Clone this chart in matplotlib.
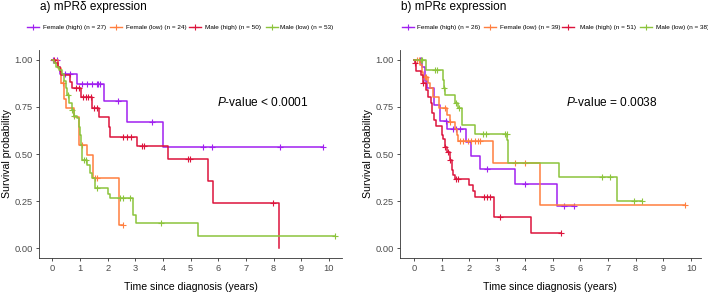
import numpy as np
import matplotlib
matplotlib.use("Agg")
import matplotlib.pyplot as plt
from matplotlib.lines import Line2D

plt.rcParams["font.family"] = ["Liberation Sans", "DejaVu Sans"]
plt.rcParams["mathtext.fontset"] = "custom"
plt.rcParams["mathtext.it"] = "Liberation Sans:italic"
plt.rcParams["mathtext.rm"] = "Liberation Sans"

groups = ["Female (high)", "Female (low)", "Male (high)", "Male (low)"]
colors = ["#A020F0", "#FF7F3F", "#DC143C", "#8CC43C"]

# panel a) mPR delta
nA = [27, 24, 50, 53]
tA = [
    [0, 0.2, 0.28, 0.88, 1.87, 2.7, 4.0, 9.8],
    [0, 0.22, 0.3, 0.44, 0.48, 0.8, 0.95, 1.24, 1.46, 2.4, 2.57],
    [0, 0.1, 0.2, 0.27, 0.33, 0.65, 0.7, 1.04, 1.42, 1.7, 2.06, 2.1, 3.05, 4.17, 5.64, 5.82, 8.18],
    [0, 0.06, 0.15, 0.25, 0.35, 0.42, 0.48, 0.53, 0.6, 0.7, 0.78, 0.88, 0.97, 1.0, 1.04, 1.08,
     1.24, 1.36, 1.42, 1.54, 2.02, 2.09, 2.93, 3.02, 5.25, 10.22],
]
sA = [
    [1, 0.963, 0.925, 0.869, 0.781, 0.668, 0.535, 0.535],
    [1, 0.958, 0.875, 0.79, 0.745, 0.694, 0.548, 0.495, 0.371, 0.124, 0.124],
    [1, 0.98, 0.96, 0.94, 0.92, 0.88, 0.848, 0.80, 0.742, 0.698, 0.645, 0.592, 0.545, 0.475, 0.357, 0.242, 0.0],
    [1, 0.981, 0.962, 0.943, 0.925, 0.887, 0.849, 0.811, 0.773, 0.735, 0.70, 0.69, 0.645, 0.60, 0.55, 0.467,
     0.44, 0.397, 0.373, 0.318, 0.29, 0.265, 0.177, 0.136, 0.067, 0.067],
]
cA = [
    [0.04, 0.16, 0.46, 0.64, 1.06, 1.24, 1.42, 1.6, 1.66, 1.72, 2.39, 3.6, 5.43, 5.76, 8.23, 9.77],
    [0.37, 1.06, 1.54, 1.63, 2.57],
    [0.05, 0.85, 0.98, 1.12, 1.21, 1.3, 1.39, 1.52, 1.6, 2.57, 2.69, 2.84, 3.23, 3.31, 4.92, 4.98, 7.99],
    [0.58, 0.7, 0.8, 1.15, 1.2, 1.6, 2.45, 2.55, 2.8, 3.92, 10.22],
]

# panel b) mPR epsilon
nB = [26, 39, 51, 38]
tB = [
    [0, 0.3, 0.4, 0.46, 0.72, 0.95, 1.2, 1.86, 2.07, 2.39, 3.63, 5.16, 5.78],
    [0, 0.2, 0.28, 0.34, 0.5, 0.58, 0.7, 0.92, 1.18, 1.3, 1.48, 1.54, 1.6, 2.84, 4.55, 9.79],
    [0, 0.03, 0.06, 0.24, 0.33, 0.42, 0.5, 0.6, 0.66, 0.72, 0.78, 1.02, 1.06, 1.12, 1.2, 1.3, 1.36,
     1.42, 1.48, 2.0, 2.12, 2.2, 2.87, 4.23, 5.3],
    [0, 0.42, 1.04, 1.08, 1.12, 1.48, 1.6, 1.72, 1.74, 2.2, 3.37, 3.41, 5.25, 7.33, 8.23],
]
sB = [
    [1, 0.962, 0.885, 0.848, 0.76, 0.675, 0.63, 0.562, 0.491, 0.42, 0.339, 0.226, 0.226],
    [1, 0.974, 0.936, 0.91, 0.875, 0.848, 0.80, 0.745, 0.707, 0.67, 0.63, 0.60, 0.569, 0.454, 0.23, 0.23],
    [1, 0.98, 0.94, 0.92, 0.875, 0.84, 0.80, 0.77, 0.72, 0.68, 0.65, 0.60, 0.58, 0.539, 0.51, 0.47, 0.415,
     0.39, 0.368, 0.336, 0.305, 0.274, 0.164, 0.083, 0.083],
    [1, 0.945, 0.89, 0.848, 0.813, 0.769, 0.742, 0.698, 0.654, 0.606, 0.575, 0.454, 0.38, 0.252, 0.252],
]
cB = [
    [0.2, 0.25, 1.15, 1.39, 1.5, 1.66, 2.63, 4.01, 5.43, 5.78],
    [0.12, 0.17, 0.38, 0.44, 1.12, 1.3, 1.66, 1.78, 1.96, 2.05, 2.2, 2.3, 2.39, 3.65, 4.01, 9.79],
    [0.04, 0.33, 1.12, 1.24, 1.3, 1.52, 1.58, 2.53, 2.63, 2.75, 3.11, 5.3],
    [0.25, 0.3, 0.76, 0.84, 1.1, 1.52, 1.62, 2.5, 2.59, 3.29, 3.35, 6.8, 7.08, 7.96, 8.23],
]

titles = ["a) mPR\u03b4 expression", "b) mPR\u03b5 expression"]
pvals = [r"$\mathit{P}$-value < 0.0001", r"$\mathit{P}$-value = 0.0038"]

W, H = 708, 295
fig = plt.figure(figsize=(W / 100, H / 100), dpi=100)

# pixel boxes of the two panels: left, right
boxes = [(39.3, 341.7), (400.0, 700.7)]
xlims = [(-0.47, 10.46), (-0.506, 10.35)]
ptext_x = [5.95, 5.49]
key_x = [[33, 116, 195, 272], [407.5, 490, 568, 646]]
text_x = [[43, 126, 205, 280], [417, 500, 580, 656]]
ns = [nA, nB]
ts = [tA, tB]
ss = [sA, sB]
cs = [cA, cB]

bottom = 1 - 257.7 / H
top = 1 - 50.3 / H

for p in range(2):
    l, r = boxes[p]
    ax = fig.add_axes([l / W, bottom, (r - l) / W, top - bottom])
    for g in range(4):
        t = np.array(ts[p][g])
        s = np.array(ss[p][g])
        ax.step(t, s, where="post", color=colors[g], lw=1.1)
        c = np.array(cs[p][g])
        idx = np.searchsorted(t, c, side="right") - 1
        ax.plot(c, s[idx], ls="none", marker="+", ms=4, mew=0.8, color=colors[g])
    ax.set_xlim(*xlims[p])
    ax.set_ylim(-0.05, 1.05)
    ax.set_xticks(range(0, 11))
    ax.set_yticks([0, 0.25, 0.5, 0.75, 1.0])
    ax.set_yticklabels(["0.00", "0.25", "0.50", "0.75", "1.00"])
    for side in ["top", "right"]:
        ax.spines[side].set_visible(False)
    for side in ["left", "bottom"]:
        ax.spines[side].set_linewidth(0.6)
        ax.spines[side].set_color("#333333")
    ax.tick_params(length=2.5, width=0.6, color="#333333", labelsize=6.7, labelcolor="#4D4D4D", pad=2)
    ax.set_xlabel("Time since diagnosis (years)", fontsize=7.6, labelpad=6.5)
    ax.set_ylabel("Survival probability", fontsize=7.6, labelpad=2)
    ax.text(ptext_x[p], 0.772, pvals[p], fontsize=8.6, va="center", ha="left")

    fig.text(l / W + 0.001, 1 - 7 / H, titles[p], fontsize=8.5, va="center", ha="left")
    for g in range(4):
        kx = key_x[p][g]
        fig.add_artist(Line2D([(kx - 6) / W, (kx + 6) / W], [1 - 27 / H, 1 - 27 / H],
                              color=colors[g], lw=1.0, transform=fig.transFigure))
        fig.add_artist(Line2D([kx / W], [1 - 27 / H], marker="+", ms=4, mew=0.8,
                              color=colors[g], transform=fig.transFigure))
        fig.text(text_x[p][g] / W, 1 - 27 / H, f"{groups[g]} (n = {ns[p][g]})",
                 fontsize=4.6, va="center", ha="left")

fig.savefig("out.png", dpi=100)
